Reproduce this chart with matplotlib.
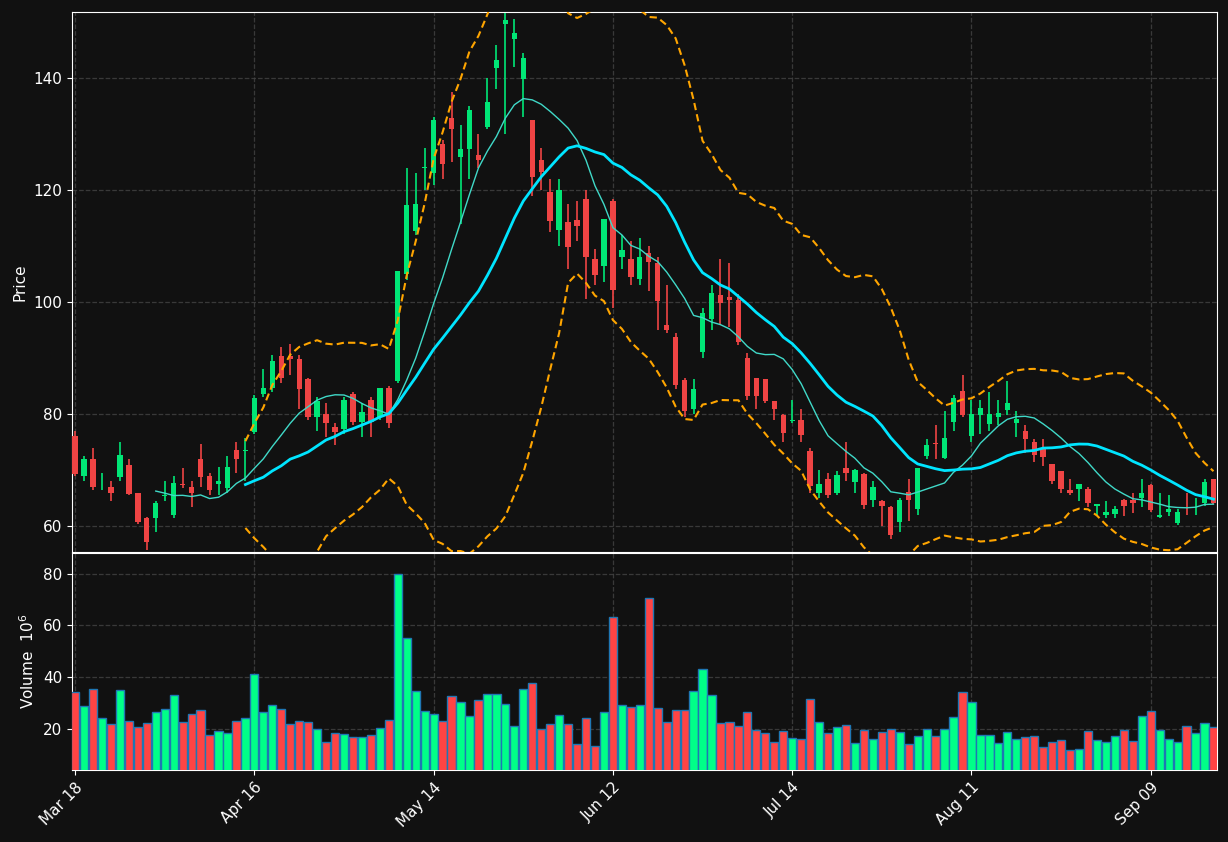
import matplotlib
matplotlib.use("Agg")
import matplotlib.pyplot as plt
import numpy as np
import pandas as pd

opens = [76.1,68.9,72,68,67,68.8,71,65.9,61.4,61.4,65.4,62,67.6,67,72,68.9,67.5,66.8,73.6,73.5,76.8,83.6,
         84.6,90.4,90.4,89.8,86.2,79.5,80,77.8,77.3,83.6,78.6,82.5,79.5,84.6,85.9,105,112.7,124,123,128.2,132.8,125.9,127.3,126.3,131.3,141.8,149.6,147,139.8,132.5,125.4,119.6,112.9,114.3,114.6,118.4,107.7,106.4,118,108,107.7,104.1,108.8,107,96,93.8,86.1,80.9,91.1,97,101.3,101,100.4,90,86.4,86.3,82.3,79.8,78.8,78.9,73.4,65.9,68.4,66,70.4,67.9,69.3,64.6,64.5,63.4,60.7,66.1,63,72.5,74.9,72.1,78.6,84.1,76.1,79.8,78.2,79.5,80.7,78.4,77,75,73.9,71.2,69.8,66.4,66.6,66.6,63.6,62,62.1,64.6,64.6,65,67.3,61.6,62.5,60.5,63.5,63.4,64.1,68.4]
closes = [69.3,72,67,68.1,66,72.8,65.7,60.7,57.1,64.1,65.6,67.7,67.4,66,68.8,66.4,68,70.5,72,73.7,82.9,84.6,
          89.5,86.4,89.8,84.5,79.5,82.3,78.4,76.8,82.5,78.6,80.4,78.6,84.6,78.4,105.5,117.3,117.5,124.2,132.5,124.6,131,127.3,134.3,125.4,135.7,143.2,150.4,148,143.6,122.3,123.2,114.5,120,109.8,113.6,108,104.8,114.8,102.1,109.3,104.5,108,107.1,100.2,95,85.2,80.5,84.5,98,101.6,99.8,100.4,92.9,83.2,83.2,82.3,80.9,76.6,78.9,76.3,67.1,67.5,65.5,69.1,69.5,70,63.8,67,63.6,58.4,64.6,64.6,70.4,74.5,74.7,75.7,82.9,79.8,80,81.1,80,80.2,82,79.1,75.5,72.7,72.3,68,66.6,65.9,67.5,64.1,63.9,62.5,63,63.6,64.1,65.9,62.9,62,63,62.6,63.4,63.5,67.9,64.1]
highs = [77,72.5,74,69.5,68,75,72,66,61.6,64.5,68,69,70.4,68,74.7,69.5,70.5,72.5,75,75.7,83.5,88,
         90.5,92,92.5,90.5,86.5,83,82,78.5,83,84,82,83,84.6,85,105.5,124,123,127.5,133,129,137.5,131.6,135,130,140,146,151.6,150.6,144.5,132.5,127.5,122,122,117.5,118,120,109.5,114.8,118.5,112,111,111.5,110,108,103,94.5,86.5,86.3,99,103,107.7,107,101.5,91,86.4,86.3,82.3,80,82.5,81,74,70,69.5,69.8,75,70.2,69.5,68,64.7,63.7,65,68.5,70.4,75.5,78,80.5,83.5,87,82.5,82.5,84,82.5,86,80.5,78,75.5,75.5,71.2,69.8,68.5,67.5,67,64,64.5,63.7,64.8,66,68.5,67.5,66,65.5,63,66,65,68.5,68.5]
lows = [69,68,66.5,66.5,64.5,68,65.5,60.4,55.8,59,64.5,61.5,66.8,63.5,67,65.5,65.5,66,69.5,68,76.5,83,
        84,85.5,87,81,79,77,76,74.5,76.5,78,76,76,79,77.5,85.5,104,112,120,121,122,125,114,122,124,131,138,130,142,133,119,120,112.5,110,106,111,100.5,103,103.6,99,106,103,103,102,95,94.5,84.5,79.5,80,90,95,96,95.5,92.3,82.5,81,82,79,75,78.5,75,66,65,65,65.5,68,66,63,63.5,60,57.8,59,61,62,72,72,72,77,79.5,75,76.5,77,78,79.8,76,73,71.5,70.8,67.6,66,65.5,64.5,63.4,61.8,61.5,61.5,61.8,62.4,63.4,62.5,61.4,61.8,60.2,62,62,63.6,64]
volume = [34.2,28.8,35.4,24.1,21.8,35,23.2,20.6,22.2,26.7,27.5,33,22.6,25.7,27.2,17.6,19.1,18.3,23,24.1,41.2,26.5,
          29.2,27.6,21.8,23,22.6,19.9,14.9,18.3,17.9,16.8,16.8,17.6,20.3,23.4,79.9,55.1,34.6,26.9,25.7,23,32.7,30.3,
          24.9,31.1,33.4,33.4,29.6,21,35.4,37.7,19.9,21.8,25.3,21.8,14.1,24.1,13.3,26.5,63.2,29.2,28.4,29.2,70.6,28,
          22.6,27.2,27.2,34.6,43.1,33,22.2,22.6,21,26.5,19.5,18.3,14.9,19.1,16.4,16,31.5,22.6,18.3,
          20.6,21.4,14.5,19.5,16,18.7,19.9,18.7,14.1,17.2,19.9,17.2,19.9,24.5,34.2,30.3,17.6,17.6,14.5,18.7,16,16.8,
          17.2,12.9,14.9,15.6,11.8,12.2,19.1,15.6,14.9,17.2,19.5,15.2,24.9,26.9,19.5,16,14.9,21,18.3,22.2,20.6]
tick_pos = [0, 20, 40, 60, 80, 100, 120]
tick_labels = ["Mar 18", "Apr 16", "May 14", "Jun 12", "Jul 14", "Aug 11", "Sep 09"]

n = len(closes)
x = np.arange(n)
o = np.array(opens); c = np.array(closes); h = np.array(highs); l = np.array(lows); v = np.array(volume)
up = c >= o
cs = pd.Series(c)
ma10 = cs.rolling(10).mean()
ma20 = cs.rolling(20).mean()
sd20 = cs.rolling(20).std(ddof=0)
bu = ma20 + 2 * sd20
bl = ma20 - 2 * sd20

BG = "#111111"
GREEN = "#00e676"; RED = "#ef4444"
VGREEN = "#00ff88"; VRED = "#ff4444"

fig = plt.figure(figsize=(12.28, 8.42), dpi=100, facecolor=BG)
ax = fig.add_axes([0.0586, 0.3444, 0.9325, 0.6413], facecolor=BG)
axv = fig.add_axes([0.0586, 0.0855, 0.9325, 0.2577], facecolor=BG, sharex=ax)

cols = np.where(up, GREEN, RED)
ax.vlines(x, l, h, colors=cols, linewidth=1.2, zorder=3)
ax.bar(x, np.abs(c - o), bottom=np.minimum(o, c), width=0.6, color=cols, zorder=4)
ax.plot(x, ma10, color="#40d9c8", lw=1.0, zorder=5)
ax.plot(x, ma20, color="#00e5ff", lw=2.0, zorder=5)
ax.plot(x, bu, color="#ffa500", lw=1.5, ls=(0, (3.5, 2)), zorder=5)
ax.plot(x, bl, color="#ffa500", lw=1.5, ls=(0, (3.5, 2)), zorder=5)
ax.set_ylim(55.4, 151.8)
ax.set_xlim(-0.35, 127.4)
ax.set_yticks([60, 80, 100, 120, 140])
ax.set_ylabel("Price", color="white", fontsize=11)

vcols = np.where(up, VGREEN, VRED)
axv.bar(x, v, width=0.92, color=vcols, edgecolor="#1f77b4", linewidth=1.0, zorder=3)
axv.set_ylim(4.1, 88)
axv.set_yticks([20, 40, 60, 80])
axv.set_ylabel("Volume  $10^6$", color="white", fontsize=11)
axv.set_xticks(tick_pos)
axv.set_xticklabels(tick_labels, rotation=45, ha="right", rotation_mode="anchor")

for a in (ax, axv):
    a.grid(True, color="#444444", ls="--", lw=0.9, alpha=0.8)
    a.set_axisbelow(True)
    for s in a.spines.values():
        s.set_color("white")
    a.tick_params(colors="white", labelsize=11)
plt.setp(ax.get_xticklabels(), visible=False)
ax.tick_params(axis="x", length=0)

fig.savefig("out.png", dpi=100, facecolor=BG)
